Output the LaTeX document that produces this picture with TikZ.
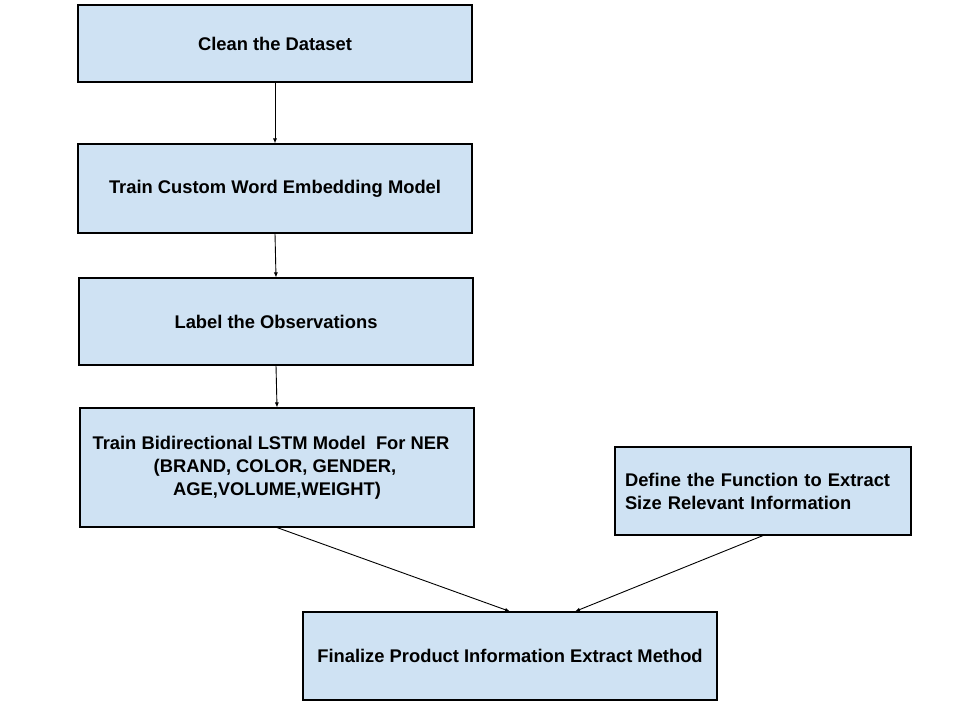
\documentclass[tikz,border=0pt]{standalone}
\usepackage{fontspec}
\setmainfont{Liberation Sans}
\usetikzlibrary{arrows.meta}

\definecolor{boxblue}{HTML}{CFE2F3}

\begin{document}
\begin{tikzpicture}[x=1pt, y=-1pt, >={Latex[length=5pt,width=4pt]},
    stage/.style={draw=black, line width=1.1pt, fill=boxblue, inner sep=0pt,
      minimum width=394pt, font=\fontsize{18.35}{23}\selectfont\bfseries,
      align=center},
    flow/.style={->, line width=0.9pt}]
  % canvas of 960 x 720 px, y grows downward
  \useasboundingbox[fill=white] (0,0) rectangle (960,720);

  % --- left column of stages ---
  \node[stage, minimum height=77pt]  (clean) at (275, 43.5) {Clean the Dataset};
  \node[stage, minimum height=89pt]  (embed) at (275, 188.5) {Train Custom Word Embedding Model};
  \node[stage, minimum height=87pt]  (label) at (276, 321.5) {Label the Observations};
  \node[stage, minimum height=119pt] (lstm)  at (277, 467.5)
    {\hspace*{-12pt}Train Bidirectional LSTM Model\ \ For NER\\
     \hspace*{-4pt}(BRAND, COLOR, GENDER,\\AGE,VOLUME,WEIGHT)};

  % --- side stage and final stage ---
  \node[stage, minimum width=296pt, minimum height=88pt, align=left,
    text width=276pt] (define) at (763, 491)
    {Define the Function to Extract\\Size Relevant Information};
  \node[stage, minimum width=414pt, minimum height=88pt] (final) at (510, 656)
    {Finalize Product Information Extract Method};

  % --- connectors ---
  \draw[flow] (clean.south) -- (embed.north);
  \draw[flow] (embed.south) -- (label.north);
  \draw[flow] (label.south) -- (lstm.north);
  \draw[flow] (lstm.south) -- (final.north);
  \draw[flow] (define.south) -- ([xshift=65pt]final.north);

\end{tikzpicture}
\end{document}
